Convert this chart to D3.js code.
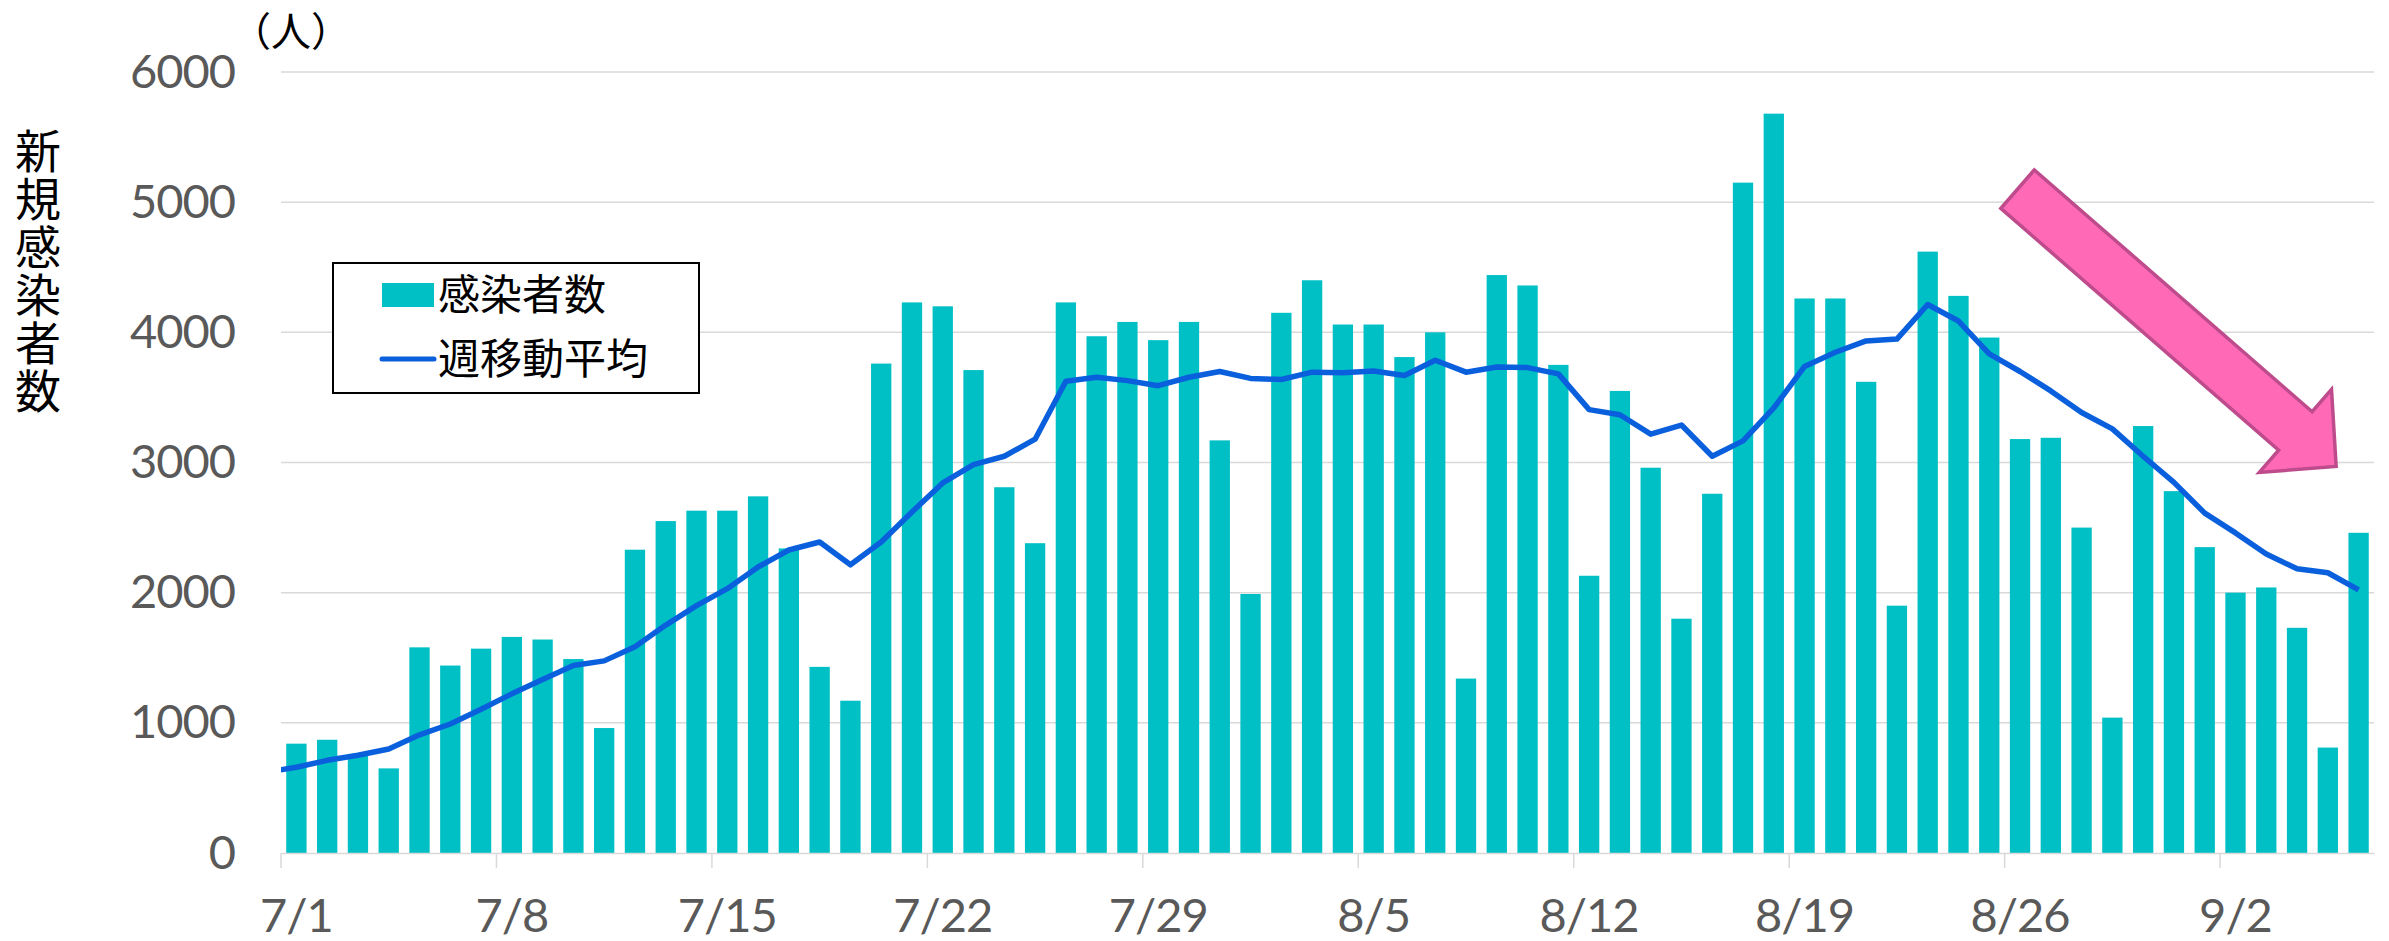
<!DOCTYPE html>
<html>
<head>
<meta charset="utf-8">
<script src="https://cdn.jsdelivr.net/npm/d3@7"></script>
<style>
  body { margin: 0; background: #fff; }
  svg { display: block; }
</style>
</head>
<body>
<div id="chart"></div>
<script>
// categories: one per day, 7/1 .. 9/6
var days = [
  "7/1","7/2","7/3","7/4","7/5","7/6","7/7","7/8","7/9","7/10",
  "7/11","7/12","7/13","7/14","7/15","7/16","7/17","7/18","7/19","7/20",
  "7/21","7/22","7/23","7/24","7/25","7/26","7/27","7/28","7/29","7/30","7/31",
  "8/1","8/2","8/3","8/4","8/5","8/6","8/7","8/8","8/9","8/10",
  "8/11","8/12","8/13","8/14","8/15","8/16","8/17","8/18","8/19","8/20",
  "8/21","8/22","8/23","8/24","8/25","8/26","8/27","8/28","8/29","8/30","8/31",
  "9/1","9/2","9/3","9/4","9/5","9/6"
];

// daily new cases (感染者数)
var cases = [
  840, 870, 750, 650, 1580, 1440, 1570, 1660, 1640, 1490,
  960, 2330, 2550, 2630, 2630, 2740, 2340, 1430, 1170, 3760,
  4230, 4200, 3710, 2810, 2380, 4230, 3970, 4080, 3940, 4080, 3170,
  1990, 4150, 4400, 4060, 4060, 3810, 4000, 1340, 4440, 4360,
  3750, 2130, 3550, 2960, 1800, 2760, 5150, 5680, 4260, 4260,
  3620, 1900, 4620, 4280, 3960, 3180, 3190, 2500, 1040, 3280, 2780,
  2350, 2000, 2040, 1730, 810, 2460
];

// 7 day moving average (週移動平均)
var movingAvg = [
  659, 712, 751, 799, 908, 991, 1105, 1223, 1332, 1441,
  1476, 1585, 1751, 1900, 2031, 2197, 2328, 2389, 2214, 2389,
  2620, 2843, 2983, 3048, 3179, 3624, 3655, 3629, 3590, 3655, 3699,
  3646, 3638, 3694, 3690, 3703, 3668, 3786, 3694, 3734, 3729,
  3681, 3406, 3367, 3218, 3288, 3048, 3166, 3419, 3738, 3847,
  3934, 3948, 4214, 4087, 3834, 3699, 3550, 3384, 3258, 3048, 2847,
  2611, 2459, 2297, 2183, 2153, 2022
];
// value for 6/30, the line comes in from the left edge of the plot
var movingAvgPrev = 620;

var yTicks = [0, 1000, 2000, 3000, 4000, 5000, 6000];
var xLabelDays = ["7/1","7/8","7/15","7/22","7/29","8/5","8/12","8/19","8/26","9/2"];
var legendLabels = ["感染者数", "週移動平均"];
var yTitle = "新規感染者数";
var unitLabel = "（人）";

// annotation arrow, in (category position, value)
var arrowFrom = [56.42, 5100], arrowTo = [66.77, 2970];

var barColor = "#00C0C6", lineColor = "#0A60DC", gridColor = "#D9D9D9";
var numFont = "Lato, 'Liberation Sans', sans-serif";
var cjkFont = "'Noto Sans CJK JP', 'Noto Sans', sans-serif";

// set dimensions margins of graph
var margin = {top: 72, right: 15, bottom: 88, left: 281},
    width = 2389 - margin.left - margin.right,
    height = 941 - margin.top - margin.bottom;

var root = d3.select("#chart")
  .append("svg")
    .attr("width", width + margin.left + margin.right)
    .attr("height", height + margin.top + margin.bottom);

var svg = root.append("g")
    .attr("transform", "translate(" + margin.left + "," + margin.top + ")");

var x = d3.scaleBand()
  .domain(days)
  .range([0, width])
  .paddingInner(0.34)
  .paddingOuter(0.17);

// position in category units (0 = left edge of first day)
var xi = d3.scaleLinear().domain([0, days.length]).range([0, width]);

var y = d3.scaleLinear()
  .domain([0, 6000])
  .range([height, 0]);

// gridlines
svg.append("g")
  .selectAll("line")
  .data(yTicks.filter(function(d) { return d > 0; }))
  .enter().append("line")
    .attr("x1", 0).attr("x2", width)
    .attr("y1", function(d) { return y(d); })
    .attr("y2", function(d) { return y(d); })
    .attr("stroke", gridColor)
    .attr("stroke-width", 1.5);

// Y axis labels
var yAxis = svg.append("g")
  .call(d3.axisLeft(y).tickValues(yTicks).tickFormat(d3.format("d")).tickSize(0).tickPadding(46));
yAxis.select(".domain").remove();
yAxis.selectAll("text")
  .attr("font-family", numFont)
  .attr("font-size", 47)
  .attr("letter-spacing", "-1px")
  .attr("fill", "#595959");

// bars
svg.append("g")
  .selectAll("rect")
  .data(cases)
  .enter().append("rect")
    .attr("x", function(d, i) { return x(days[i]); })
    .attr("y", function(d) { return y(d); })
    .attr("width", x.bandwidth())
    .attr("height", function(d) { return height - y(d); })
    .attr("fill", barColor);

// X axis
var xAxis = svg.append("g")
  .attr("transform", "translate(0," + height + ")")
  .call(d3.axisBottom(x).tickValues(xLabelDays).tickSize(0).tickPadding(46));
xAxis.select(".domain")
  .attr("stroke", gridColor)
  .attr("stroke-width", 1.5);
xAxis.selectAll("text")
  .attr("font-family", numFont)
  .attr("font-size", 47)
  .attr("letter-spacing", "-1px")
  .attr("fill", "#595959");

// weekly tick marks on the category boundaries
xAxis.append("g")
  .selectAll("line")
  .data(xLabelDays)
  .enter().append("line")
    .attr("x1", function(d) { return x(d) + x.bandwidth() / 2 - x.step() / 2; })
    .attr("x2", function(d) { return x(d) + x.bandwidth() / 2 - x.step() / 2; })
    .attr("y1", 0).attr("y2", 15)
    .attr("stroke", gridColor)
    .attr("stroke-width", 1.5);

// moving average line, clipped to the plot
svg.append("clipPath").attr("id", "plot-clip")
  .append("rect").attr("x", 0).attr("y", -10).attr("width", width).attr("height", height + 10);

var maPoints = [[-0.5, movingAvgPrev]].concat(movingAvg.map(function(v, i) { return [i + 0.5, v]; }));

svg.append("path")
  .datum(maPoints)
  .attr("clip-path", "url(#plot-clip)")
  .attr("fill", "none")
  .attr("stroke", lineColor)
  .attr("stroke-width", 5.5)
  .attr("stroke-linejoin", "round")
  .attr("d", d3.line()
    .x(function(d) { return xi(d[0]); })
    .y(function(d) { return y(d[1]); })
  );

// pink arrow
var p0 = [xi(arrowFrom[0]), y(arrowFrom[1])],
    p1 = [xi(arrowTo[0]), y(arrowTo[1])];
var dx = p1[0] - p0[0], dy = p1[1] - p0[1], len = Math.sqrt(dx * dx + dy * dy);
var u = [dx / len, dy / len], n = [-u[1], u[0]];
var shaftW = 51, headW = 110, headL = 54;
var base = [p1[0] - u[0] * headL, p1[1] - u[1] * headL];
function off(p, k) { return [p[0] + n[0] * k, p[1] + n[1] * k]; }
var arrowPts = [
  off(p0, shaftW / 2), off(base, shaftW / 2), off(base, headW / 2), p1,
  off(base, -headW / 2), off(base, -shaftW / 2), off(p0, -shaftW / 2)
];
svg.append("path")
  .attr("d", "M" + arrowPts.map(function(p) { return p[0] + "," + p[1]; }).join("L") + "Z")
  .attr("fill", "#FF69B6")
  .attr("stroke", "#BE4C8C")
  .attr("stroke-width", 3.5)
  .attr("stroke-linejoin", "miter");

// legend
var lg = root.append("g").attr("transform", "translate(333,263)");
lg.append("rect")
  .attr("width", 366).attr("height", 130)
  .attr("fill", "#fff")
  .attr("stroke", "#000")
  .attr("stroke-width", 2);
lg.append("rect")
  .attr("x", 49).attr("y", 20).attr("width", 52).attr("height", 24)
  .attr("fill", barColor);
lg.append("line")
  .attr("x1", 49).attr("x2", 101).attr("y1", 96).attr("y2", 96)
  .attr("stroke", lineColor).attr("stroke-width", 5).attr("stroke-linecap", "round");
lg.selectAll("text.lab")
  .data(legendLabels)
  .enter().append("text")
    .attr("class", "lab")
    .attr("x", 105)
    .attr("y", function(d, i) { return 28 + i * 64; })
    .attr("dominant-baseline", "central")
    .attr("font-family", cjkFont)
    .attr("font-size", 42)
    .attr("fill", "#000")
    .text(function(d) { return d; });

// y axis title, written top to bottom
root.append("text")
  .attr("x", 38)
  .attr("y", 272)
  .attr("writing-mode", "vertical-rl")
  .attr("text-anchor", "middle")
  .attr("font-family", cjkFont)
  .attr("font-size", 46)
  .attr("letter-spacing", "2px")
  .attr("fill", "#000")
  .text(yTitle);

// unit label
root.append("text")
  .attr("x", 291).attr("y", 29)
  .attr("text-anchor", "middle")
  .attr("dominant-baseline", "central")
  .attr("font-family", cjkFont)
  .attr("font-size", 40)
  .attr("fill", "#000")
  .text(unitLabel);
</script>
</body>
</html>
